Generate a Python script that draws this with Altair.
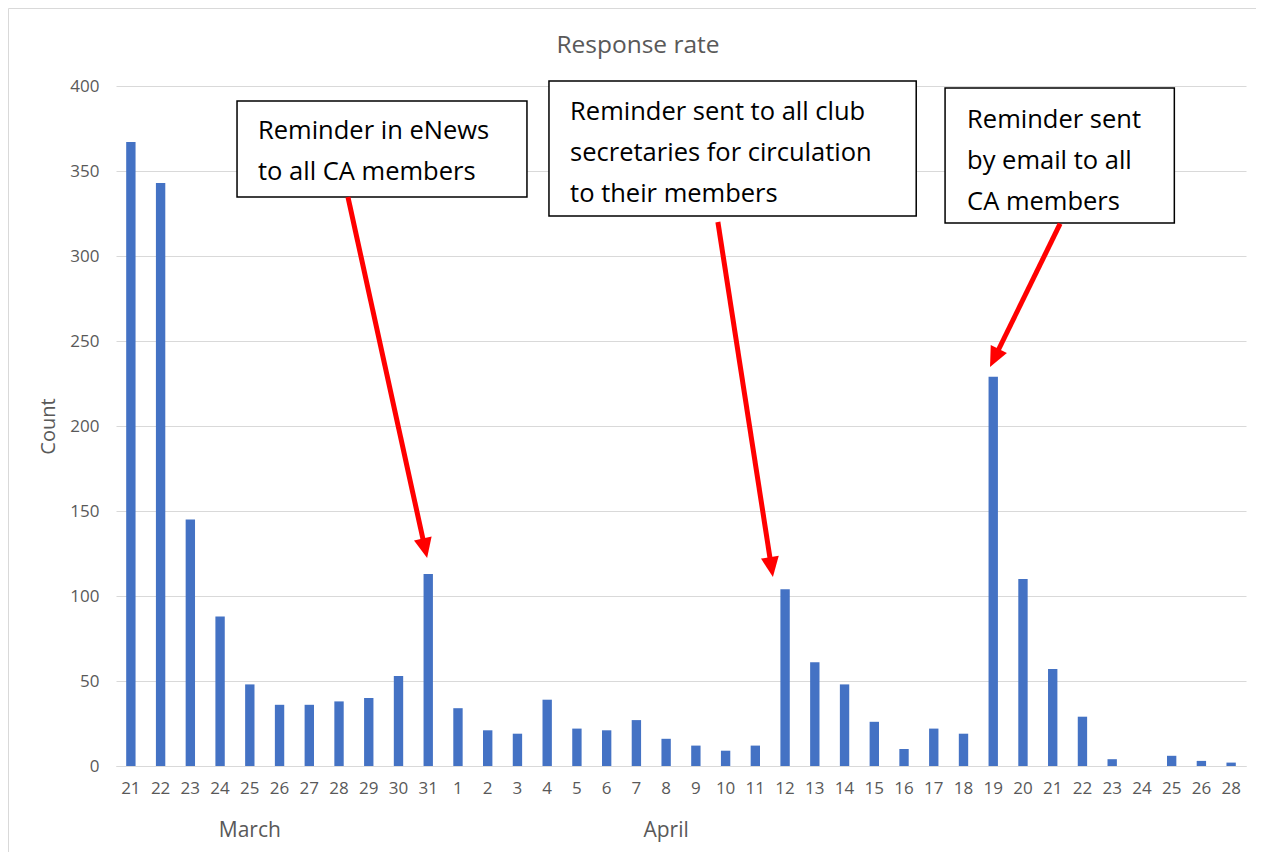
import altair as alt
import pandas as pd

# ---- data ----
march_days = [21, 22, 23, 24, 25, 26, 27, 28, 29, 30, 31]
march_counts = [367, 343, 145, 88, 48, 36, 36, 38, 40, 53, 113]
april_days = [1, 2, 3, 4, 5, 6, 7, 8, 9, 10, 11, 12, 13, 14, 15, 16, 17, 18, 19,
              20, 21, 22, 23, 24, 25, 26, 28]
april_counts = [34, 21, 19, 39, 22, 21, 27, 16, 12, 9, 12, 104, 61, 48, 26, 10, 22, 19, 229,
                110, 57, 29, 4, 0, 6, 3, 2]

keys = [f"Mar {d}" for d in march_days] + [f"Apr {d}" for d in april_days]
counts = march_counts + april_counts
df = pd.DataFrame({"key": keys, "count": counts})

month_names = ["March", "April"]
month_anchor = ["Mar 25", "Apr 8"]
month_y = [-38, -38]
months = pd.DataFrame({"key": month_anchor, "name": month_names, "y": month_y})

title_text = "Response rate"

# annotation geometry in (category index, count) data space
box_x = [4.07, 14.56, 27.88]
box_x2 = [13.82, 26.91, 35.59]
box_y = [391.2, 402.9, 398.8]
box_y2 = [334.7, 323.5, 319.4]
boxes = pd.DataFrame({"x": box_x, "x2": box_x2, "y": box_y, "y2": box_y2})

note_text = [
    "Reminder in eNews\nto all CA members",
    "Reminder sent to all club\nsecretaries for circulation\nto their members",
    "Reminder sent\nby email to all\nCA members",
]
note_x = [4.775, 15.27, 28.62]
note_y = [368.6, 380.0, 375.5]
notes = pd.DataFrame({"x": note_x, "y": note_y, "t": note_text})

arrow_x = [7.80, 20.24, 31.75]
arrow_y = [334.7, 320.0, 319.0]
head_x = [10.39, 22.04, 29.54]
head_y = [128.1, 117.0, 240.0]
head_angle = [167.6, 171.2, 206.1]
arrows = pd.DataFrame({"x": arrow_x, "y": arrow_y, "hx": head_x, "hy": head_y, "ang": head_angle})

FONT = "Open Sans"
GREY = "#595959"
GRID = "#D9D9D9"
N = len(keys)
W, H = 1130, 680

yscale = alt.Scale(domain=[0, 400], nice=False)
xband = alt.Scale(domain=keys, paddingInner=0.685, paddingOuter=0.3425)
xq = alt.Scale(domain=[0, N], nice=False, zero=False)

bars = alt.Chart(df).mark_bar(color="#4472C4").encode(
    x=alt.X("key:N", sort=keys, scale=xband, title=None,
            axis=alt.Axis(labelExpr="split(datum.label, ' ')[1]", labelAngle=0,
                          labelFontSize=17, labelColor=GREY, labelFont=FONT,
                          labelPadding=14, ticks=False, domain=True,
                          domainColor=GRID, domainWidth=1, grid=False, title=None)),
    y=alt.Y("count:Q", scale=yscale, title="Count",
            axis=alt.Axis(values=list(range(0, 401, 50)), grid=True, gridColor=GRID,
                          gridWidth=1, domain=False, ticks=False, labelPadding=17,
                          labelFontSize=17, labelColor=GREY, labelFont=FONT,
                          title="Count", titleFontSize=20, titleColor=GREY,
                          titleFont=FONT, titleFontWeight="normal",
                          titleX=-68, titleY=340, titleAlign="center",
                          titleBaseline="middle", titleAngle=270)),
)

month_text = alt.Chart(months).mark_text(
    font=FONT, fontSize=21, color=GREY, baseline="middle", align="center"
).encode(
    x=alt.X("key:N", sort=keys, scale=xband),
    y=alt.Y("y:Q", scale=yscale),
    text="name:N",
)

base = alt.layer(bars, month_text)

rects = alt.Chart(boxes).mark_rect(fill="white", stroke="black", strokeWidth=1.5).encode(
    x=alt.X("x:Q", scale=xq, axis=None), x2="x2:Q",
    y=alt.Y("y:Q", scale=yscale), y2="y2:Q",
)

texts = alt.Chart(notes).mark_text(
    font=FONT, fontSize=25.5, color="black", align="left", baseline="alphabetic",
    lineBreak="\n", lineHeight=41
).encode(
    x=alt.X("x:Q", scale=xq, axis=None),
    y=alt.Y("y:Q", scale=yscale),
    text="t:N",
)

lines = alt.Chart(arrows).mark_rule(color="#FF0000", strokeWidth=5, strokeCap="butt").encode(
    x=alt.X("x:Q", scale=xq, axis=None), x2="hx:Q",
    y=alt.Y("y:Q", scale=yscale), y2="hy:Q",
)

heads = alt.Chart(arrows).mark_point(
    shape="M0,-1L0.9,1L-0.9,1Z", filled=True, color="#FF0000", opacity=1, size=400
).encode(
    x=alt.X("hx:Q", scale=xq, axis=None),
    y=alt.Y("hy:Q", scale=yscale),
    angle=alt.Angle("ang:Q", scale=None),
)

one = pd.DataFrame({"a": [0]})
frame = alt.Chart(one).mark_rect(fill=None, stroke=GRID, strokeWidth=1).encode(
    x=alt.value(-107.5), x2=alt.value(1300), y=alt.value(-77.5), y2=alt.value(900)
)
title_mark = alt.Chart(pd.DataFrame({"t": [title_text]})).mark_text(
    font=FONT, fontSize=24.5, color=GREY, align="center", baseline="alphabetic"
).encode(x=alt.value(522), y=alt.value(-33.5), text="t:N")

annot = alt.layer(rects, lines, heads, texts)

chart = alt.layer(frame, title_mark, base, annot).resolve_scale(
    x="independent"
).properties(
    width=W, height=H,
    padding={"left": 108, "top": 78, "right": 10, "bottom": 86},
    autosize=alt.AutoSizeParams(type="none"),
).configure(background="white").configure_view(stroke=None)

chart.save("out.html", embed_options={"renderer": "svg", "actions": False})
